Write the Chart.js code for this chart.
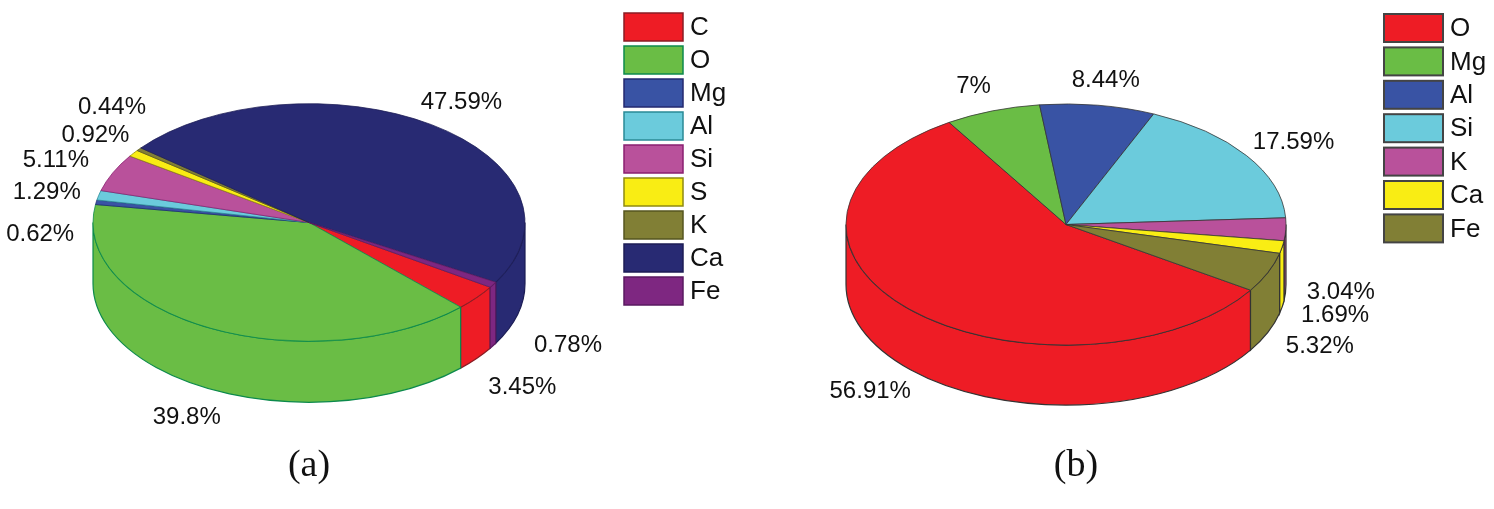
<!DOCTYPE html>
<html>
<head>
<meta charset="utf-8">
<title>Element composition pies</title>
<script src="https://cdn.jsdelivr.net/npm/chart.js@4/dist/chart.umd.min.js"></script>
<style>
  html, body { margin: 0; background: #fff; }
  body { width: 1494px; height: 509px; position: relative; overflow: hidden; }
  canvas { position: absolute; top: 0; }
  #chartA { left: 0; }
  #chartB { left: 747px; }
  .caption { position: absolute; font: 38px "Liberation Serif", serif; color: #111; transform: translateX(-50%); }
</style>
</head>
<body>
<canvas id="chartA" width="747" height="509"></canvas>
<canvas id="chartB" width="747" height="509"></canvas>
<div class="caption" style="left:309px;top:441px">(a)</div>
<div class="caption" style="left:1076px;top:441px">(b)</div>
<script>
const labelsA = ["C", "O", "Mg", "Al", "Si", "S", "K", "Ca", "Fe"];
const valuesA = [3.45, 39.8, 0.62, 1.29, 5.11, 0.92, 0.44, 47.59, 0.78];
const colorsA = ["#ee1c25", "#6abd45", "#3953a4", "#6bcbdc", "#b9519b", "#f9ed14", "#817f35", "#282a73", "#7e2781"];
const bordersA = ["#8a1c24", "#0c8a4c", "#23286f", "#2a8a96", "#8a1f70", "#8f8a10", "#55551f", "#1c1d55", "#5a1a60"];

const labelsB = ["O", "Mg", "Al", "Si", "K", "Ca", "Fe"];
const valuesB = [56.91, 7, 8.44, 17.59, 3.04, 1.69, 5.32];
const colorsB = ["#ee1c25", "#6abd45", "#3953a4", "#6bcbdc", "#b9519b", "#f9ed14", "#817f35"];
const bordersB = ["#333", "#333", "#333", "#333", "#333", "#333", "#333"];

// value label offset from the rim of its slice
const labelOffsetsA = [[46, 29], [-24, 28], [-56, 32], [-52, -3], [-57, -12], [-38, -18], [-27, -42], [30, -22], [75, 0]];
const labelOffsetsB = [[-39, 22], [-19, -24], [8, -25], [47, -13], [55, 3], [53, 8], [52, 14]];

const labelFont = '24px "Liberation Sans", Arial, sans-serif';
const legendFont = '26px "Liberation Sans", Arial, sans-serif';

// squashes the pie into an ellipse and adds the side wall under it
const tiltPlugin = {
  id: "tilt",
  beforeDatasetDraw(chart, args, opts) {
    const ctx = chart.ctx;
    const arcs = chart.getDatasetMeta(0).data;
    const ds = chart.data.datasets[0];
    const { x: cx, y: cy, outerRadius: r } = arcs[0];
    ctx.save();
    ctx.lineWidth = 1.2;
    arcs.forEach((arc, i) => {
      [0, Math.PI * 2].forEach((shift) => {
        const s = Math.max(arc.startAngle - shift, 0);
        const e = Math.min(arc.endAngle - shift, Math.PI);
        if (e <= s) return;
        ctx.beginPath();
        ctx.ellipse(cx, cy, r, r * opts.squash, 0, s, e);
        ctx.ellipse(cx, cy + opts.depth, r, r * opts.squash, 0, e, s, true);
        ctx.closePath();
        ctx.fillStyle = ds.backgroundColor[i];
        ctx.strokeStyle = ds.borderColor[i];
        ctx.fill();
        ctx.stroke();
      });
    });
    ctx.restore();
    ctx.save();
    ctx.translate(cx, cy);
    ctx.scale(1, opts.squash);
    ctx.translate(-cx, -cy);
  },
  afterDatasetDraw(chart) {
    chart.ctx.restore();
  },
  afterDraw(chart, args, opts) {
    const ctx = chart.ctx;
    const arcs = chart.getDatasetMeta(0).data;
    const ds = chart.data.datasets[0];
    ctx.save();
    ctx.fillStyle = "#111";
    ctx.font = labelFont;
    ctx.textAlign = "center";
    ctx.textBaseline = "middle";
    arcs.forEach((arc, i) => {
      const mid = (arc.startAngle + arc.endAngle) / 2;
      const sin = Math.sin(mid);
      const x = arc.x + arc.outerRadius * Math.cos(mid);
      const y = arc.y + arc.outerRadius * opts.squash * sin + (sin > 0 ? opts.depth : 0);
      ctx.fillText(ds.data[i] + "%", x + opts.offsets[i][0], y + opts.offsets[i][1]);
    });
    // legend
    ctx.textAlign = "left";
    ctx.font = legendFont;
    ctx.lineWidth = opts.legendLine;
    chart.data.labels.forEach((name, i) => {
      const y = opts.legendY + i * opts.legendStep;
      ctx.fillStyle = ds.backgroundColor[i];
      ctx.strokeStyle = opts.legendBorder || ds.borderColor[i];
      ctx.fillRect(opts.legendX, y, 59, 28);
      ctx.strokeRect(opts.legendX, y, 59, 28);
      ctx.fillStyle = "#111";
      ctx.fillText(name, opts.legendX + 66, y + 15);
    });
    ctx.restore();
  },
};

const makeChart = (id, labels, values, colors, borders, radius, padding, tilt) => {
  return new Chart(document.getElementById(id).getContext("2d"), {
    type: "pie",
    data: {
      labels: labels,
      datasets: [
        {
          data: values,
          backgroundColor: colors,
          borderColor: borders,
          borderWidth: 1,
          radius: radius,
          rotation: 123,
          clip: false,
        },
      ],
    },
    options: {
      responsive: false,
      animation: false,
      events: [],
      layout: { padding: padding },
      plugins: {
        legend: { display: false },
        tooltip: { enabled: false },
        tilt: tilt,
      },
    },
    plugins: [tiltPlugin],
  });
};

makeChart("chartA", labelsA, valuesA, colorsA, bordersA, 216, { right: 129, bottom: 64 }, {
  squash: 0.55,
  depth: 61,
  offsets: labelOffsetsA,
  legendX: 624,
  legendY: 13,
  legendStep: 33,
  legendLine: 1.5,
});

makeChart("chartB", labelsB, valuesB, colorsB, bordersB, 220, { right: 109, bottom: 60 }, {
  squash: 0.548,
  depth: 60,
  offsets: labelOffsetsB,
  legendX: 637,
  legendY: 14,
  legendStep: 33.4,
  legendLine: 2,
  legendBorder: "#444",
});
</script>
</body>
</html>
